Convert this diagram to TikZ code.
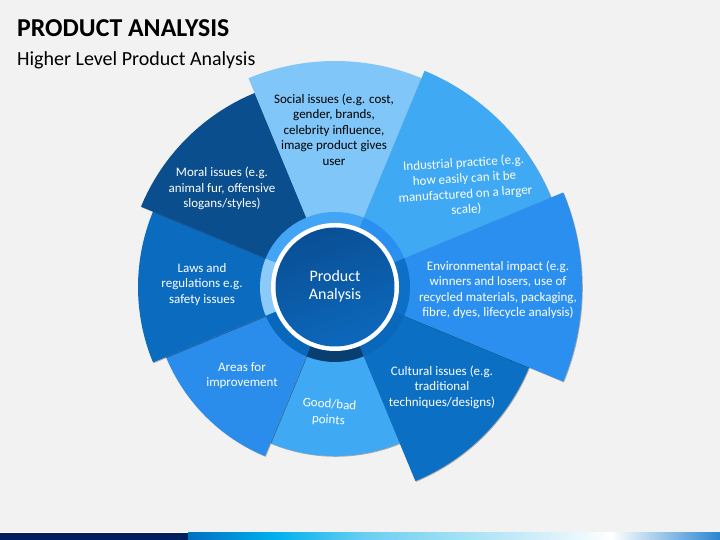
\documentclass[tikz,border=0pt]{standalone}
\usepackage{fontspec}
\setmainfont{Carlito}
\usetikzlibrary{shadows,calc}
\definecolor{bg}{HTML}{F2F2F2}
\definecolor{cSocial}{HTML}{80C6F8}
\definecolor{cInd}{HTML}{40A9F4}
\definecolor{cEnv}{HTML}{2A8FEE}
\definecolor{cCul}{HTML}{0B6FC3}
\definecolor{cGood}{HTML}{40A9F4}
\definecolor{cArea}{HTML}{2A8DEB}
\definecolor{cLaw}{HTML}{0B6CBF}
\definecolor{cMoral}{HTML}{0A4E8D}
\definecolor{rTop}{HTML}{42A5F5}
\definecolor{rUR}{HTML}{2B8FEF}
\definecolor{rR}{HTML}{0D6FC6}
\definecolor{rLR}{HTML}{0A68BC}
\definecolor{rB}{HTML}{083E70}
\definecolor{rLL}{HTML}{0A68BC}
\definecolor{rL}{HTML}{8CCBF9}
\definecolor{rUL}{HTML}{42A5F5}
\definecolor{diskA}{HTML}{0A4F95}
\definecolor{diskB}{HTML}{0C68BC}
\definecolor{navy}{HTML}{002060}
\definecolor{barA}{HTML}{0070C0}
\definecolor{barB}{HTML}{00B0F0}
\definecolor{barC}{HTML}{6CCFF0}
\definecolor{barD}{HTML}{D8F1FA}
\definecolor{barE}{HTML}{FFFFFF}
\definecolor{barF}{HTML}{2A85D0}
\newcommand\wdg[4]{\fill[#4, wshadow] (C) -- ++(#1:#3) arc[start angle=#1, end angle=#2, radius=#3] -- cycle;}
\newcommand\rseg[3]{\fill[#3] (C) -- ++(#1:75) arc[start angle=#1, end angle=#2, radius=75] -- cycle;}
\tikzset{
  wshadow/.style={drop shadow={shadow xshift=0.8pt, shadow yshift=-0.8pt, opacity=.3, fill=black}},
  wtext/.style={align=center, inner sep=0pt, text=white, font=\fontsize{13}{15.5}\selectfont},
  ctext/.style={align=center, inner sep=0pt, text=white, font=\fontsize{16}{18.3}\selectfont},
}
\begin{document}
\begin{tikzpicture}[x=1pt,y=1pt]
\useasboundingbox (0,0) rectangle (720,540);
\fill[bg] (0,0) rectangle (720,540);
\coordinate (C) at (335,253);
% wedges, bottom to top
\wdg{247.5}{292.5}{169}{cGood}
\wdg{202.5}{247.5}{183}{cArea}
\wdg{157.5}{202.5}{197}{cLaw}
\wdg{292.5}{337.5}{210}{cCul}
\wdg{112.5}{157.5}{210}{cMoral}
\wdg{67.5}{112.5}{226}{cSocial}
\wdg{22.5}{67.5}{234}{cInd}
\wdg{-22.5}{22.5}{247}{cEnv}
% inner ring
\rseg{67.5}{112.5}{rTop}
\rseg{22.5}{67.5}{rUR}
\rseg{-22.5}{22.5}{rR}
\rseg{-67.5}{-22.5}{rLR}
\rseg{-112.5}{-67.5}{rB}
\rseg{-157.5}{-112.5}{rLL}
\rseg{157.5}{202.5}{rL}
\rseg{112.5}{157.5}{rUL}
\fill[white] (C) circle[radius=64];
\shade[top color=diskA, bottom color=diskB, shading angle=20] (C) circle[radius=59.5];
% texts
\node[ctext] (center) at (335,254) {Product\\Analysis};
\node[wtext, text=black] (social) at (334,410.5) {Social issues (e.g. cost,\\gender, brands,\\celebrity influence,\\image product gives\\user};
\node[wtext, rotate=3.5] (ind) at (465,353.5) {Industrial practice (e.g.\\how easily can it be\\manufactured on a larger\\scale)};
\node[wtext] (env) at (498,250) {Environmental impact (e.g.\\winners and losers, use of\\recycled materials, packaging,\\fibre, dyes, lifecycle analysis)};
\node[wtext] (cul) at (442,153) {Cultural issues (e.g.\\traditional\\techniques/designs)};
\node[wtext, rotate=-4] (good) at (329,127.5) {Good/bad\\points};
\node[wtext] (area) at (242,164.5) {Areas for\\improvement};
\node[wtext] (law) at (202,255.5) {Laws and\\regulations e.g.\\safety issues};
\node[wtext] (moral) at (222,351.5) {Moral issues (e.g.\\animal fur, offensive\\slogans/styles)};
% title
\node[anchor=base west, inner sep=0pt, font=\fontsize{25.8}{30}\selectfont\bfseries] (title) at (17,503.3) {PRODUCT ANALYSIS};
\node[anchor=base west, inner sep=0pt, font=\fontsize{20}{24}\selectfont] (subtitle) at (17,474.3) {Higher Level Product Analysis};
% bottom bar
\fill[white] (0,7) rectangle (720,8);
\fill[navy] (0,0) rectangle (188,7);
\shade[left color=barA, right color=barB] (188,0) rectangle (275,7);
\shade[left color=barB, right color=barC] (275,0) rectangle (367,7);
\shade[left color=barC, right color=barD] (367,0) rectangle (551,7);
\shade[left color=barD, right color=barE] (551,0) rectangle (611,7);
\shade[left color=barE, right color=barF] (611,0) rectangle (720,7);
\end{tikzpicture}
\end{document}
